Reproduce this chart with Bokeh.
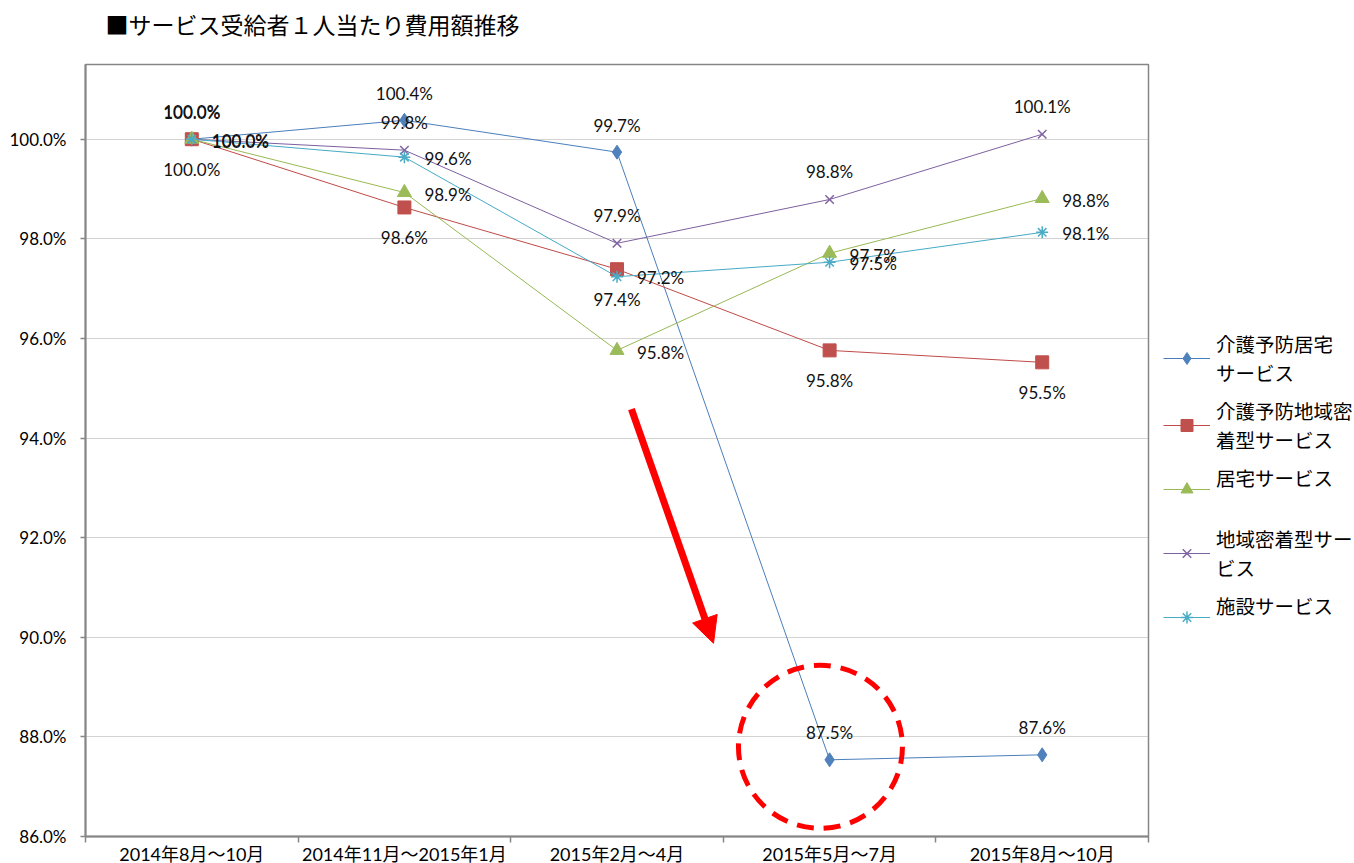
from bokeh.plotting import figure
from bokeh.models import (ColumnDataSource, LabelSet, Legend, LegendItem, FixedTicker,
                          PrintfTickFormatter, Range1d, Arrow, NormalHead, Title)
from bokeh.core.properties import value
from bokeh.embed import file_html
from bokeh.resources import INLINE

# ---------------- data ----------------
title_text = "■サービス受給者１人当たり費用額推移"
categories = ["2014年8月～10月", "2014年11月～2015年1月", "2015年2月～4月",
              "2015年5月～7月", "2015年8月～10月"]
series_names = ["介護予防居宅サービス", "介護予防地域密着型サービス", "居宅サービス",
                "地域密着型サービス", "施設サービス"]
# wrapped legend labels (two lines each so every entry has the same height)
legend_labels = ["介護予防居宅\nサービス", "介護予防地域密\n着型サービス", "居宅サービス\n ",
                 "地域密着型サー\nビス", "施設サービス\n "]
yobou_kyotaku = [100.0, 100.38, 99.74, 87.54, 87.64]
yobou_chiiki = [100.0, 98.63, 97.39, 95.76, 95.52]
kyotaku = [100.0, 98.93, 95.76, 97.71, 98.81]
chiiki = [100.0, 99.78, 97.91, 98.79, 100.1]
shisetsu = [100.0, 99.64, 97.24, 97.53, 98.13]
y_ticks = [86, 88, 90, 92, 94, 96, 98, 100]

series_values = [yobou_kyotaku, yobou_chiiki, kyotaku, chiiki, shisetsu]

# ---------------- styles ----------------
line_colors = ["#4A7EBB", "#BE4B48", "#98B954", "#7D60A0", "#46AAC5"]
fill_colors = ["#4F81BD", "#C0504D", "#9BBB59", "#8064A2", "#4BACC6"]
markers = ["diamond", "square", "triangle", "x", "asterisk"]
msizes = [14, 13, 14, 12, 12]
# label placement: (x_offset, y_offset, align)
label_pos = [(0, 27, "center"), (0, -30, "center"), (20, -2, "left"),
             (0, 28, "center"), (20, -1, "left")]

NUM_FONT = "Lato"
CJK_FONT = "Noto Sans CJK JP"
MIX_FONT = "Lato, 'Noto Sans CJK JP'"
LEG_FONT = "'Liberation Sans', 'Noto Sans CJK JP'"
AXIS_GRAY = "#868686"

p = figure(frame_width=1063, frame_height=772, title=None,
           x_range=Range1d(0, len(categories)), y_range=Range1d(86, 101.5),
           output_backend="svg", toolbar_location=None,
           min_border_left=85, min_border_top=64, min_border_right=200, min_border_bottom=0,
           background_fill_color="white", border_fill_color="white")
p.outline_line_color = AXIS_GRAY
p.outline_line_width = 1.5

# spacer panel next to the frame, then the real title above it
p.add_layout(Title(text=" ", text_font_size="1px", standoff=12), "above")
p.add_layout(Title(text=title_text, text_font=CJK_FONT, text_font_size="23px",
                   text_font_style="normal", text_color="black", align="left",
                   vertical_align="top", offset=20, standoff=13), "above")

# x axis: labels at category centres, tick marks at boundaries
xa = p.xaxis[0]
xa.ticker = FixedTicker(ticks=[i + 0.5 for i in range(len(categories))],
                        minor_ticks=list(range(len(categories) + 1)))
xa.major_label_overrides = {i + 0.5: c for i, c in enumerate(categories)}
xa.major_tick_out = 0
xa.major_tick_in = 0
xa.minor_tick_out = 6
xa.minor_tick_in = 0
xa.minor_tick_line_color = AXIS_GRAY
xa.minor_tick_line_width = 1.5
xa.axis_line_color = AXIS_GRAY
xa.axis_line_width = 2
xa.major_label_text_font = MIX_FONT
xa.major_label_text_font_size = "18px"
xa.major_label_text_color = "black"
xa.major_label_standoff = 0

ya = p.yaxis[0]
ya.ticker = FixedTicker(ticks=y_ticks)
ya.formatter = PrintfTickFormatter(format="%.1f%%")
ya.major_tick_out = 5
ya.major_tick_in = 0
ya.minor_tick_out = 0
ya.minor_tick_in = 0
ya.major_tick_line_color = AXIS_GRAY
ya.major_tick_line_width = 1.5
ya.axis_line_color = AXIS_GRAY
ya.axis_line_width = 2
ya.major_label_text_font = NUM_FONT
ya.major_label_text_font_size = "17px"
ya.major_label_text_color = "black"
ya.major_label_standoff = 14

p.xgrid.visible = False
p.ygrid.grid_line_color = "#A6A6A6"
p.ygrid.grid_line_dash = "1 1"
p.ygrid.grid_line_width = 1

xs = [i + 0.5 for i in range(len(categories))]
legend_items = []
for k, vals in enumerate(series_values):
    src = ColumnDataSource(dict(x=xs, y=vals, lab=[f"{v:.1f}%" for v in vals]))
    lr = p.line("x", "y", source=src, line_color=line_colors[k], line_width=1)
    if markers[k] in ("x", "asterisk"):
        sr = p.scatter("x", "y", source=src, marker=markers[k], size=msizes[k],
                       line_color=fill_colors[k], line_width=1.5)
    else:
        sr = p.scatter("x", "y", source=src, marker=markers[k], size=msizes[k],
                       fill_color=fill_colors[k], line_color=fill_colors[k], line_width=1)
    legend_items.append(LegendItem(label=legend_labels[k], renderers=[lr, sr]))
    xo, yo, al = label_pos[k]
    p.add_layout(LabelSet(x="x", y="y", text="lab", source=src, x_offset=xo, y_offset=yo,
                          text_align=al, text_baseline="middle", text_font=value(NUM_FONT),
                          text_font_size="17px", text_color="#111111"))

# emphasis: arrow and dashed circle around the drop
p.add_layout(Arrow(end=NormalHead(size=26, fill_color="red", line_color="red", line_width=1),
                   x_start=2.568, y_start=94.58, x_end=2.954, y_end=89.88,
                   line_color="red", line_width=7))
p.ellipse(x=3.457, y=87.80, width=164, height=163, width_units="screen",
          height_units="screen", fill_alpha=0, line_color="red", line_width=5,
          line_dash="17 10")

legend = Legend(items=legend_items, location=(15, 193), orientation="vertical",
                label_text_font=LEG_FONT, label_text_font_size="19.5px",
                label_text_color="black",
                glyph_width=47, glyph_height=30, label_height=20, label_standoff=6,
                spacing=9, padding=0, margin=0, border_line_alpha=0,
                background_fill_alpha=0)
p.add_layout(legend, "right")

open("out.html", "w").write(file_html(p, INLINE))
